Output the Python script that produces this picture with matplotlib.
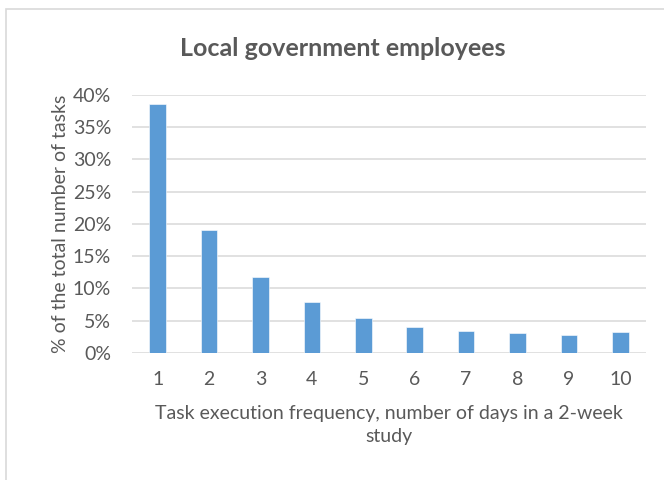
import matplotlib.pyplot as plt
from matplotlib.patches import Rectangle
from matplotlib.ticker import PercentFormatter

# task frequency (days out of a 2-week study) and share of all tasks
days = [1, 2, 3, 4, 5, 6, 7, 8, 9, 10]
share = [38.6, 19.1, 11.8, 7.95, 5.4, 4.0, 3.45, 3.15, 2.8, 3.3]
y_ticks = [0, 5, 10, 15, 20, 25, 30, 35, 40]

plt.rcParams['font.family'] = ['Lato', 'DejaVu Sans']
text_col = '#595959'
grid_col = '#D9D9D9'
bar_col = '#5B9BD5'

fig = plt.figure(figsize=(6.64, 4.8), dpi=100)
ax = fig.add_axes([0.1988, 0.2646, 0.7741, 0.5375])

# light frame around the chart area
fig.patches.append(Rectangle((6 / 664, -0.1), 1.2, 1 - 9 / 480 + 0.1,
                             transform=fig.transFigure, fill=False,
                             edgecolor='#D9D9D9', linewidth=1.2))

ax.bar(days, share, width=0.32, color=bar_col, edgecolor='white',
       linewidth=0.4, zorder=3)

ax.set_xlim(0.5, 10.5)
ax.set_ylim(0, 40)
ax.set_xticks(days)
ax.set_yticks(y_ticks)
ax.yaxis.set_major_formatter(PercentFormatter(decimals=0))
ax.grid(axis='y', color=grid_col, linewidth=1.1, zorder=0)
ax.set_axisbelow(True)
for s in ax.spines.values():
    s.set_visible(False)
ax.tick_params(length=0, labelsize=14, colors=text_col)
ax.tick_params(axis='y', pad=15)
ax.tick_params(axis='x', pad=13)

fig.text(343 / 664, 1 - 48 / 480, 'Local government employees', fontsize=18,
         fontweight='bold', color=text_col, ha='center', va='center')
ax.set_xlabel('Task execution frequency, number of days in a 2-week\nstudy',
              fontsize=14, color=text_col, labelpad=12, linespacing=1.45)
ax.set_ylabel('% of the total number of tasks', fontsize=14,
              color=text_col, labelpad=3)

plt.savefig('out.png', dpi=100)
